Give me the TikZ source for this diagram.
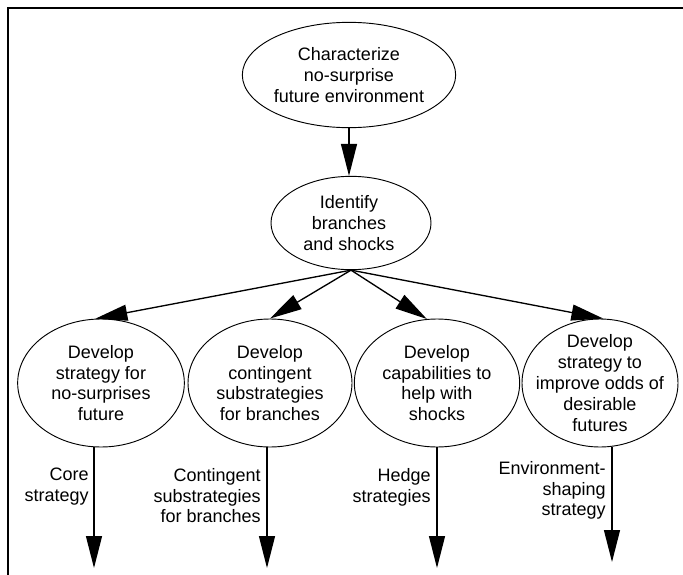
\documentclass[tikz,border=0pt]{standalone}
\usepackage{fontspec}
\setmainfont{Liberation Sans}
\usetikzlibrary{shapes.geometric,arrows.meta}
\begin{document}
\begin{tikzpicture}[x=0.75pt,y=-0.75pt,
  txt/.style={font=\fontsize{13.5}{15.6}\selectfont},
  bubble/.style={draw, ellipse, line width=0.7pt, inner sep=0pt},
  caption/.style={txt, inner sep=0pt, align=center},
  flow/.style={line width=1pt, -{Triangle[length=24pt,width=12pt]}},
  lbl/.style={txt, inner sep=0pt, align=right, anchor=north east},
]
\useasboundingbox (0,0) rectangle (683,575);
% open frame: top and left edges only
\draw[line width=1.2pt] (683,8) -- (8,8) -- (8,575);

% top of the tree
\node[bubble, minimum width=160pt, minimum height=79pt] (top) at (349,75) {};
\node[caption] (topt) at (top) {Characterize\\no-surprise\\future environment};
\node[bubble, minimum width=120pt, minimum height=70pt] (mid) at (351,223) {};
\node[caption] (midt) at (349,223) {Identify\\branches\\and shocks};

% four strategy bubbles
\node[bubble, minimum width=125pt, minimum height=96pt] (c1) at (101,383) {};
\node[caption] (c1t) at (c1) {Develop\\strategy for\\no-surprises\\future};
\node[bubble, minimum width=123pt, minimum height=96pt] (c2) at (270,383) {};
\node[caption] (c2t) at (c2) {Develop\\contingent\\substrategies\\for branches};
\node[bubble, minimum width=124pt, minimum height=96pt] (c3) at (437,383) {};
\node[caption] (c3t) at (c3) {Develop\\capabilities to\\help with\\shocks};
\node[bubble, minimum width=117pt, minimum height=96pt] (c4) at (600,383) {};
\node[caption] (c4t) at (c4) {Develop\\strategy to\\improve odds of\\desirable\\futures};

% connectors
\draw[flow] (top.south) -- (top.south |- mid.north);
\draw[flow] (mid.south) -- (c1.95);
\draw[flow] (mid.south) -- (c2.north);
\draw[flow] (mid.south) -- (c3.99);
\draw[flow] (mid.south) -- (c4.87);

% outgoing strategies
\coordinate (e1) at (94,568);
\coordinate (e2) at (267,568);
\coordinate (e3) at (437,568);
\coordinate (e4) at (612,562);
\draw[flow] (c1.south -| e1) -- (e1);
\draw[flow] (c2.south -| e2) -- (e2);
\draw[flow] (c3.south -| e3) -- (e3);
\draw[flow] (c4.south -| e4) -- (e4);

\node[lbl] (l1) at (89,468) {Core\\strategy};
\node[lbl] (l2) at (261,468) {Contingent\\substrategies\\for branches};
\node[lbl] (l3) at (431,468) {Hedge\\strategies};
\node[lbl] (l4) at (606,461) {Environment-\\shaping\\strategy};
\end{tikzpicture}
\end{document}
